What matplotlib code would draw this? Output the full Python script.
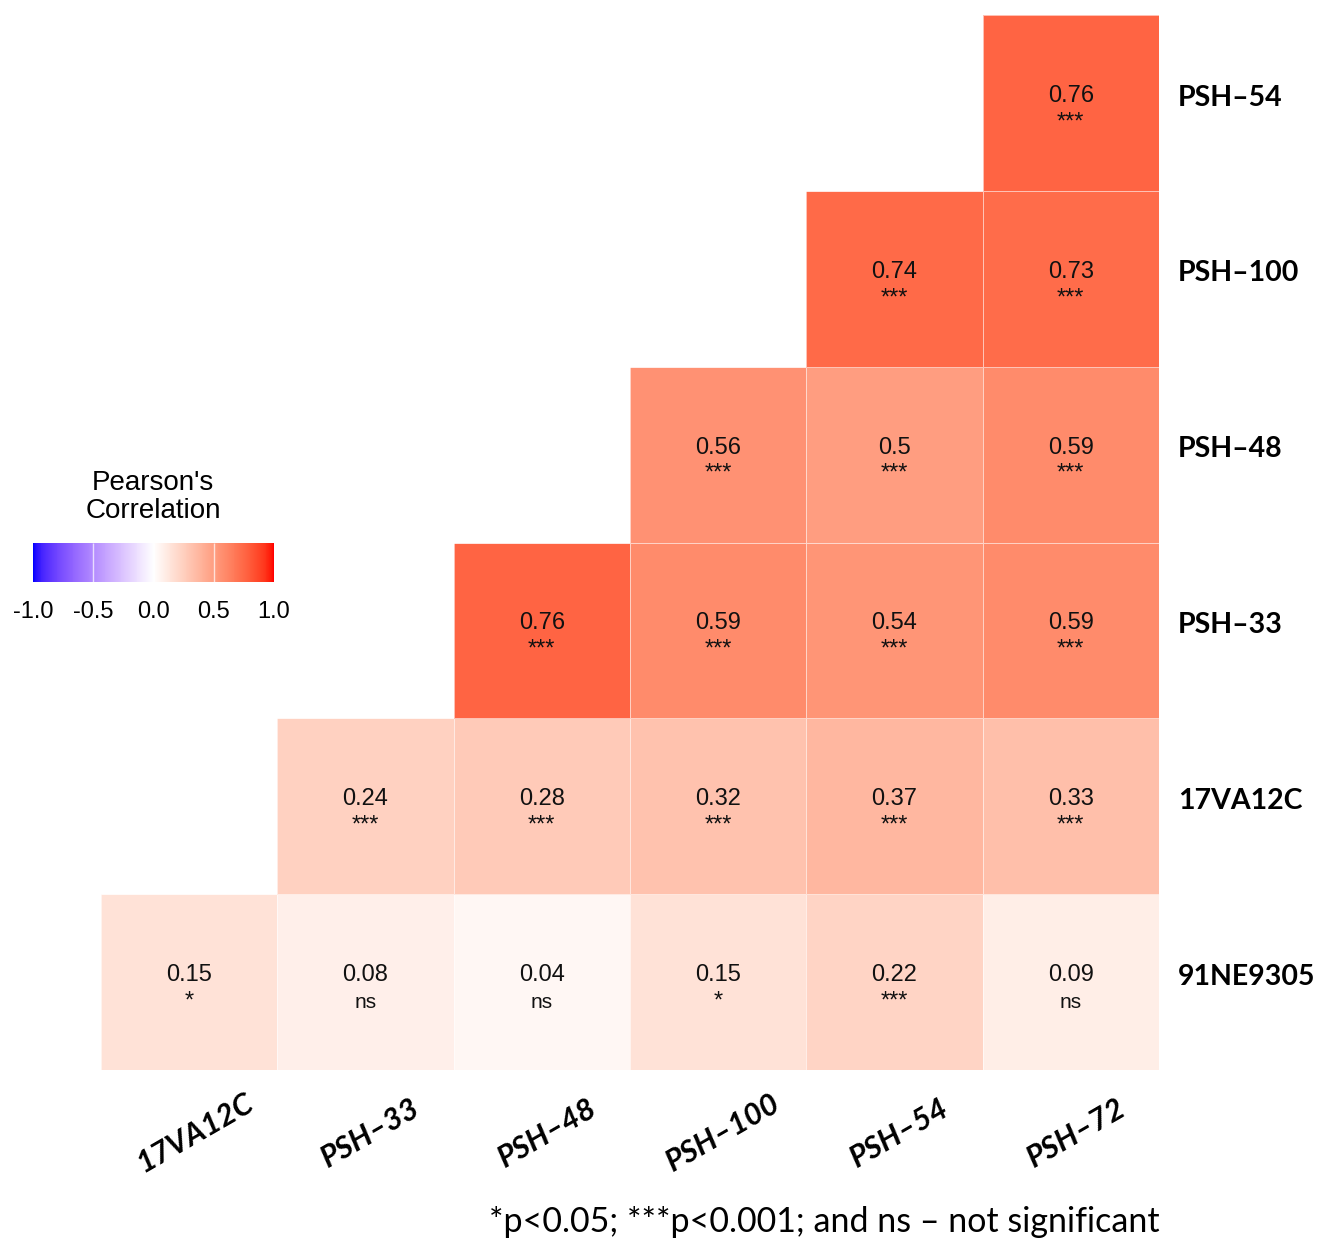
import numpy as np
import matplotlib
matplotlib.use("Agg")
import matplotlib.pyplot as plt
import matplotlib.transforms as mtransforms
from matplotlib.colors import ListedColormap, Normalize
from matplotlib.cm import ScalarMappable

nan = np.nan

# strains along x, and along y from bottom to top
cols = ["17VA12C", "PSH\u201333", "PSH\u201348", "PSH\u2013100", "PSH\u201354", "PSH\u201372"]
rows = ["91NE9305", "17VA12C", "PSH\u201333", "PSH\u201348", "PSH\u2013100", "PSH\u201354"]

r_vals = [
    [0.15, 0.08, 0.04, 0.15, 0.22, 0.09],
    [nan, 0.24, 0.28, 0.32, 0.37, 0.33],
    [nan, nan, 0.76, 0.59, 0.54, 0.59],
    [nan, nan, nan, 0.56, 0.5, 0.59],
    [nan, nan, nan, nan, 0.74, 0.73],
    [nan, nan, nan, nan, nan, 0.76],
]
sig = [
    ["*", "ns", "ns", "*", "***", "ns"],
    ["", "***", "***", "***", "***", "***"],
    ["", "", "***", "***", "***", "***"],
    ["", "", "", "***", "***", "***"],
    ["", "", "", "", "***", "***"],
    ["", "", "", "", "", "***"],
]


# blue - white - red gradient interpolated in CIELAB
def srgb_to_lab(rgb):
    c = np.asarray(rgb, float)
    lin = np.where(c <= 0.04045, c / 12.92, ((c + 0.055) / 1.055) ** 2.4)
    M = np.array([[0.4124, 0.3576, 0.1805],
                  [0.2126, 0.7152, 0.0722],
                  [0.0193, 0.1192, 0.9505]])
    xyz = M @ lin / np.array([0.95047, 1.0, 1.08883])
    f = np.where(xyz > 0.008856, np.cbrt(xyz), 7.787 * xyz + 16 / 116)
    return np.array([116 * f[1] - 16, 500 * (f[0] - f[1]), 200 * (f[1] - f[2])])


def lab_to_srgb(lab):
    L, a, b = lab
    fy = (L + 16) / 116
    fx = fy + a / 500
    fz = fy - b / 200
    f = np.array([fx, fy, fz])
    xyz = np.where(f ** 3 > 0.008856, f ** 3, (f - 16 / 116) / 7.787)
    xyz = xyz * np.array([0.95047, 1.0, 1.08883])
    Minv = np.array([[3.2406, -1.5372, -0.4986],
                     [-0.9689, 1.8758, 0.0415],
                     [0.0557, -0.2040, 1.0570]])
    lin = Minv @ xyz
    lin = np.clip(lin, 0, 1)
    c = np.where(lin <= 0.0031308, 12.92 * lin, 1.055 * lin ** (1 / 2.4) - 0.055)
    return np.clip(c, 0, 1)


lab_lo = srgb_to_lab([0, 0, 1])
lab_mid = srgb_to_lab([1, 1, 1])
lab_hi = srgb_to_lab([1, 0, 0])
colors = []
for t in np.linspace(-1, 1, 256):
    if t < 0:
        lab = lab_mid + (-t) * (lab_lo - lab_mid)
    else:
        lab = lab_mid + t * (lab_hi - lab_mid)
    colors.append(lab_to_srgb(lab))
cmap = ListedColormap(colors)
norm = Normalize(-1, 1)

W, H = 1322, 1243
fig = plt.figure(figsize=(W / 100, H / 100), dpi=100)
ax = fig.add_axes([101 / W, (H - 1070) / H, (1159 - 101) / W, (1070 - 15) / H])

data = np.ma.masked_invalid(np.array(r_vals))
ax.pcolormesh(np.arange(7), np.arange(7), data, cmap=cmap, norm=norm,
              edgecolors=(1, 1, 1, 0.6), linewidth=0.7)
ax.set_xlim(0, 6)
ax.set_ylim(0, 6)
for s in ax.spines.values():
    s.set_visible(False)
ax.set_xticks([])
ax.set_yticks([])

for i in range(6):
    for j in range(6):
        v = r_vals[i][j]
        if np.isnan(v):
            continue
        ax.text(j + 0.5, i + 0.54, str(round(v, 2)), ha="center", va="center",
                fontsize=17, family="Liberation Sans", color="#111111")
        if sig[i][j] == "ns":
            ax.text(j + 0.5, i + 0.385, "ns", ha="center", va="center",
                    fontsize=15, family="Liberation Sans", color="#111111")
        else:
            ax.text(j + 0.5, i + 0.39, sig[i][j], ha="center", va="center",
                    fontsize=17, family="Liberation Sans", color="#111111")

# row names on the right
tr_y = mtransforms.blended_transform_factory(fig.transFigure, ax.transData)
for i, name in enumerate(rows):
    fig.text(1178 / W, i + 0.53, name, transform=tr_y, ha="left", va="center",
             fontsize=20.5, fontweight="bold", family="Lato")

# column names below, slanted
tr_x = mtransforms.blended_transform_factory(ax.transData, fig.transFigure)
for j, name in enumerate(cols):
    ax.text(j + 0.53, (H - 1133) / H, name, transform=tr_x, ha="center", va="center",
            rotation=30, rotation_mode="anchor", fontsize=22, fontweight="bold",
            style="italic", family="Lato")

# colour legend
cax = fig.add_axes([33 / W, (H - 582) / H, (274 - 33) / W, (582 - 543) / H])
cb = fig.colorbar(ScalarMappable(norm=norm, cmap=cmap), cax=cax, orientation="horizontal")
cb.outline.set_visible(False)
cb.set_ticks([-1.0, -0.5, 0.0, 0.5, 1.0])
cb.set_ticklabels(["-1.0", "-0.5", "0.0", "0.5", "1.0"])
cax.tick_params(length=0, labelsize=17, pad=14)
for lab in cax.get_xticklabels():
    lab.set_family("Liberation Sans")
cax.vlines([-0.5, 0.0, 0.5], 0, 1, color="white", linewidth=1, alpha=0.7)
fig.text(153 / W, (H - 497) / H, "Pearson's\nCorrelation", ha="center", va="center",
         fontsize=20, family="Liberation Sans", linespacing=1.15)

fig.text(824 / W, (H - 1222) / H, "*p<0.05; ***p<0.001; and ns \u2013 not significant",
         ha="center", va="center", fontsize=24.5, family="Lato")

fig.savefig("out.png", dpi=100)
